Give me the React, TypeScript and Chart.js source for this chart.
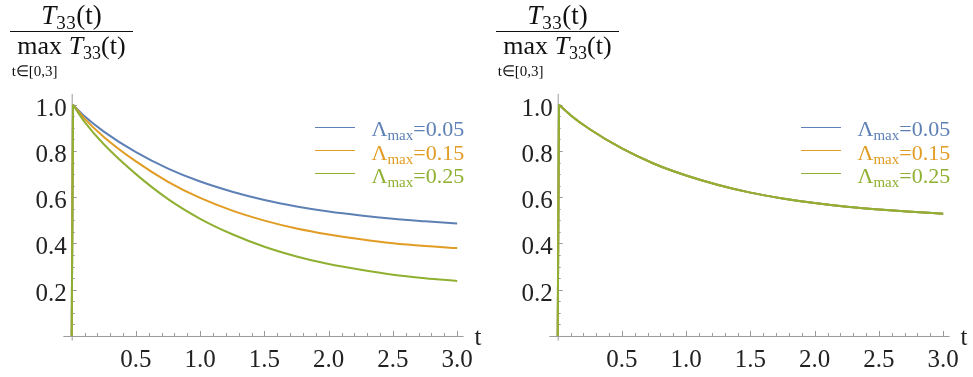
import React, { useEffect, useRef } from "react";
import { Chart, registerables } from "chart.js";

Chart.register(...registerables);

// ---- data ----
const T_VALUES = [0, 0.01, 0.1, 0.25, 0.5, 0.75, 1.0, 1.25, 1.5, 1.75, 2.0, 2.25, 2.5, 2.75, 3.0];

const LEFT_L005 = [0, 1.0, 0.950, 0.884, 0.795, 0.724, 0.668, 0.624, 0.588, 0.560, 0.538, 0.521, 0.507, 0.496, 0.486];
const LEFT_L015 = [0, 1.0, 0.940, 0.861, 0.755, 0.667, 0.597, 0.542, 0.499, 0.465, 0.439, 0.418, 0.401, 0.389, 0.380];
const LEFT_L025 = [0, 1.0, 0.926, 0.829, 0.700, 0.592, 0.507, 0.440, 0.386, 0.344, 0.311, 0.286, 0.265, 0.250, 0.238];

const RIGHT_L005 = [0, 1.0, 0.955, 0.894, 0.811, 0.745, 0.694, 0.653, 0.620, 0.595, 0.575, 0.559, 0.547, 0.537, 0.529];
const RIGHT_L015 = [0, 1.0, 0.955, 0.894, 0.811, 0.745, 0.694, 0.653, 0.620, 0.595, 0.575, 0.559, 0.547, 0.537, 0.529];
const RIGHT_L025 = [0, 1.0, 0.955, 0.894, 0.811, 0.745, 0.694, 0.653, 0.620, 0.595, 0.575, 0.559, 0.547, 0.537, 0.529];

const SERIES_LABELS = ["0.05", "0.15", "0.25"];
const SERIES_COLORS = ["#5e81b5", "#e19c24", "#8fb032"];

const X_TICK_VALUES = [0.5, 1.0, 1.5, 2.0, 2.5, 3.0];
const X_TICK_LABELS = ["0.5", "1.0", "1.5", "2.0", "2.5", "3.0"];
const Y_TICK_VALUES = [0.2, 0.4, 0.6, 0.8, 1.0];
const Y_TICK_LABELS = ["0.2", "0.4", "0.6", "0.8", "1.0"];

const X_AXIS_LABEL = "t";

// ---- style ----
const AXIS_COLOR = "#9a9a9a";
const TEXT_COLOR = "#222222";
const SERIF = '"Liberation Serif", "Times New Roman", serif';

const mmaAxes = {
  id: "mmaAxes",
  beforeDatasetsDraw(chart: any) {
    const { ctx, scales } = chart;
    const x = scales.x;
    const y = scales.y;
    const x0 = x.getPixelForValue(0);
    const y0 = y.getPixelForValue(0);
    ctx.save();
    ctx.strokeStyle = AXIS_COLOR;
    ctx.lineWidth = 1;
    ctx.beginPath();
    ctx.moveTo(x.left, y0 + 0.5);
    ctx.lineTo(x.right, y0 + 0.5);
    ctx.moveTo(x0 + 0.5, y.bottom);
    ctx.lineTo(x0 + 0.5, y.top);
    // x ticks (minor every 0.1, major every 0.5)
    for (let i = 1; i <= 30; i++) {
      const v = i / 10;
      const px = Math.round(x.getPixelForValue(v)) + 0.5;
      const len = i % 5 === 0 ? 5 : 3;
      ctx.moveTo(px, y0);
      ctx.lineTo(px, y0 - len);
    }
    // y ticks (minor every 0.05, major every 0.2)
    for (let i = 1; i <= 20; i++) {
      const v = i / 20;
      const py = Math.round(y.getPixelForValue(v)) + 0.5;
      const len = i % 4 === 0 ? 5 : 3;
      ctx.moveTo(x0, py);
      ctx.lineTo(x0 + len, py);
    }
    ctx.stroke();

    ctx.fillStyle = TEXT_COLOR;
    ctx.font = `25px ${SERIF}`;
    ctx.textBaseline = "alphabetic";
    ctx.textAlign = "center";
    X_TICK_VALUES.forEach((v, i) => {
      ctx.fillText(X_TICK_LABELS[i], x.getPixelForValue(v), y0 + 31);
    });
    ctx.textAlign = "right";
    Y_TICK_VALUES.forEach((v, i) => {
      ctx.fillText(Y_TICK_LABELS[i], x0 - 5, y.getPixelForValue(v) + 11);
    });
    ctx.textAlign = "left";
    ctx.fillText(X_AXIS_LABEL, x.right + 11, y0 + 9);
    ctx.restore();
  },
};

function Panel({ series, left }: { series: number[][]; left: number }) {
  const ref = useRef<HTMLCanvasElement | null>(null);
  useEffect(() => {
    if (!ref.current) return;
    const n = series.length;
    const datasets: any[] = [];
    series.forEach((vals, i) => {
      const pts = T_VALUES.map((t, j) => ({ x: t, y: vals[j] }));
      // initial jump (straight) and decay (smooth), same series colour
      datasets.push({
        label: SERIES_LABELS[i] + " rise",
        data: pts.slice(0, 2),
        borderColor: SERIES_COLORS[i],
        borderWidth: 2,
        pointRadius: 0,
        tension: 0,
        fill: false,
        order: 2 * (n - i),
      });
      datasets.push({
        label: SERIES_LABELS[i],
        data: pts.slice(1),
        borderColor: SERIES_COLORS[i],
        borderWidth: 2,
        pointRadius: 0,
        cubicInterpolationMode: "monotone",
        fill: false,
        order: 2 * (n - i) - 1,
      });
    });
    const chart = new Chart(ref.current, {
      type: "line",
      data: { datasets },
      options: {
        animation: false,
        responsive: false,
        maintainAspectRatio: false,
        events: [],
        layout: { padding: { left: 63.35, right: 23.4, top: 93.9, bottom: 36.4 } },
        scales: {
          x: { type: "linear", min: -0.065, max: 3.05, display: false },
          y: { type: "linear", min: -0.02, max: 1.047, display: false },
        },
        plugins: { legend: { display: false }, tooltip: { enabled: false }, title: { display: false } },
      },
      plugins: [mmaAxes],
    });
    return () => chart.destroy();
  }, [series]);

  const rowYs = [127.3, 150.5, 173.5];
  return (
    <div style={{ position: "absolute", left, top: 0, width: 487, height: 377 }}>
      <canvas ref={ref} width={487} height={377} style={{ position: "absolute", left: 0, top: 0, width: 487, height: 377 }} />
      {/* title fraction */}
      <div style={{ position: "absolute", left: 10, top: 1.5, width: 123, textAlign: "center", fontFamily: SERIF, fontSize: 27, lineHeight: 1, color: "#111", whiteSpace: "nowrap" }}>
        <span style={{ fontStyle: "italic" }}>T</span>
        <span style={{ fontSize: 19, position: "relative", top: 5, letterSpacing: 0.5 }}>33</span>
        <span>(t)</span>
      </div>
      <div style={{ position: "absolute", left: 10, top: 30.5, width: 123, height: 0, borderTop: "1.2px solid #111" }} />
      <div style={{ position: "absolute", left: 10, top: 33.2, width: 123, textAlign: "center", fontFamily: SERIF, fontSize: 26, lineHeight: 1, color: "#111", whiteSpace: "nowrap" }}>
        <span>max </span>
        <span style={{ fontStyle: "italic" }}>T</span>
        <span style={{ fontSize: 18, position: "relative", top: 5 }}>33</span>
        <span>(t)</span>
      </div>
      <div style={{ position: "absolute", left: 11.7, top: 64.4, fontFamily: SERIF, fontSize: 15, lineHeight: 1, color: "#111", whiteSpace: "nowrap" }}>
        t∈[0,3]
      </div>
      {/* legend */}
      {SERIES_LABELS.map((lab, i) => (
        <React.Fragment key={lab}>
          <div style={{ position: "absolute", left: 315, top: rowYs[i] - 0.75, width: 40, height: 0, borderTop: `1.5px solid ${SERIES_COLORS[i]}` }} />
          <div style={{ position: "absolute", left: 371.5, top: rowYs[i] + 9.4 - 18.4, fontFamily: SERIF, fontSize: 22, lineHeight: 1, color: SERIES_COLORS[i], whiteSpace: "nowrap" }}>
            <span>Λ</span>
            <span style={{ fontSize: 15, position: "relative", top: 4 }}>max</span>
            <span>={lab}</span>
          </div>
        </React.Fragment>
      ))}
    </div>
  );
}

const LEFT_SERIES = [LEFT_L005, LEFT_L015, LEFT_L025];
const RIGHT_SERIES = [RIGHT_L005, RIGHT_L015, RIGHT_L025];

export default function App() {
  return (
    <div style={{ position: "fixed", left: 0, top: 0, width: 973, height: 377, background: "#fff", overflow: "hidden" }}>
      <Panel series={LEFT_SERIES} left={0} />
      <Panel series={RIGHT_SERIES} left={486} />
    </div>
  );
}
